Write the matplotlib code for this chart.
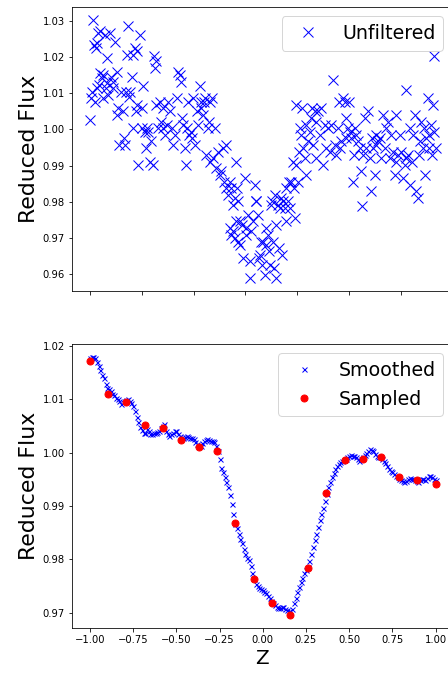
import numpy as np
import matplotlib
matplotlib.use('Agg')
import matplotlib.pyplot as plt

# Unfiltered light curve
z_raw = [
    -1.000, -0.985, -0.990, -0.996, -0.977, -0.965, -0.961, -0.952, -0.942, -0.971,
    -0.958, -0.946, -0.942, -0.933, -0.923, -0.923, -0.913, -0.908, -0.904, -0.900,
    -0.894, -0.884, -0.879, -0.869, -0.865, -0.855, -0.846, -0.842, -0.836, -0.830,
    -0.823, -0.811, -0.803, -0.798, -0.792, -0.788, -0.778, -0.773, -0.769, -0.759,
    -0.753, -0.750, -0.740, -0.734, -0.730, -0.726, -0.721, -0.711, -0.701, -0.696,
    -0.692, -0.682, -0.676, -0.672, -0.663, -0.653, -0.644, -0.634, -0.630, -0.624,
    -0.618, -0.615, -0.605, -0.595, -0.586, -0.580, -0.576, -0.566, -0.557, -0.547,
    -0.538, -0.528, -0.518, -0.509, -0.499, -0.489, -0.480, -0.474, -0.470, -0.461,
    -0.451, -0.445, -0.441, -0.432, -0.426, -0.418, -0.412, -0.403, -0.393, -0.383,
    -0.374, -0.364, -0.358, -0.355, -0.345, -0.341, -0.335, -0.326, -0.316, -0.310,
    -0.306, -0.303, -0.291, -0.287, -0.277, -0.268, -0.258, -0.249, -0.239, -0.229,
    -0.225, -0.214, -0.210, -0.200, -0.191, -0.181, -0.171, -0.162, -0.156, -0.148,
    -0.143, -0.191, -0.181, -0.171, -0.162, -0.152, -0.143, -0.133, -0.129, -0.118,
    -0.114, -0.104, -0.098, -0.094, -0.085, -0.075, -0.071, -0.066, -0.056, -0.046,
    -0.040, -0.037, -0.027, -0.021, -0.017, -0.008, -0.002, 0.002, 0.012, 0.017,
    0.021, 0.031, 0.037, 0.040, 0.050, 0.056, 0.060, 0.066, 0.069, 0.075,
    0.079, 0.089, 0.094, 0.098, 0.108, 0.114, 0.118, 0.127, 0.133, 0.137,
    0.146, 0.152, 0.156, 0.166, 0.175, 0.179, 0.185, 0.191, 0.195, 0.204,
    0.210, 0.214, 0.224, 0.229, 0.233, 0.243, 0.249, 0.252, 0.262, 0.272,
    0.281, 0.287, 0.291, 0.301, 0.306, 0.310, 0.320, 0.329, 0.339, 0.349,
    0.358, 0.368, 0.378, 0.387, 0.397, 0.407, 0.416, 0.426, 0.435, 0.441,
    0.445, 0.455, 0.464, 0.474, 0.480, 0.484, 0.493, 0.499, 0.503, 0.513,
    0.522, 0.526, 0.532, 0.541, 0.551, 0.561, 0.570, 0.576, 0.580, 0.590,
    0.599, 0.609, 0.618, 0.628, 0.634, 0.638, 0.647, 0.653, 0.657, 0.667,
    0.676, 0.686, 0.696, 0.705, 0.715, 0.724, 0.734, 0.744, 0.753, 0.763,
    0.769, 0.773, 0.782, 0.792, 0.802, 0.811, 0.821, 0.827, 0.830, 0.840,
    0.850, 0.854, 0.865, 0.869, 0.879, 0.888, 0.898, 0.904, 0.908, 0.917,
    0.927, 0.936, 0.942, 0.946, 0.956, 0.961, 0.965, 0.975, 0.981, 0.985,
    0.990, 0.994, 1.000,
]
flux_raw = [
    1.0027, 1.0303, 1.0105, 1.0087, 1.0234, 1.0225, 1.0238, 1.0266, 1.0271, 1.0077,
    1.0114, 1.0123, 1.0155, 1.0141, 1.0150, 1.0087, 1.0261, 1.0114, 1.0197, 1.0128,
    1.0096, 1.0266, 1.0146, 1.0132, 1.0114, 1.0243, 1.0160, 1.0040, 1.0059, 0.9957,
    1.0105, 1.0050, 0.9976, 0.9957, 1.0105, 1.0206, 1.0287, 1.0091, 1.0105, 1.0146,
    1.0003, 1.0206, 1.0225, 1.0050, 1.0216, 1.0068, 0.9902, 1.0261, 1.0003, 1.0059,
    1.0119, 0.9994, 0.9948, 1.0003, 0.9994, 0.9911, 0.9967, 0.9902, 1.0202, 1.0169,
    1.0188, 1.0068, 1.0003, 1.0077, 1.0022, 1.0003, 1.0059, 0.9985, 1.0013, 1.0077,
    1.0050, 1.0003, 0.9957, 0.9985, 1.0087, 1.0160, 1.0150, 1.0132, 1.0031, 1.0013,
    0.9948, 0.9902, 1.0003, 1.0077, 0.9985, 0.9994, 0.9976, 1.0087, 0.9957, 1.0050,
    1.0013, 1.0119, 1.0077, 1.0059, 1.0040, 1.0077, 1.0087, 0.9930, 1.0003, 1.0022,
    0.9911, 1.0077, 1.0087, 0.9920, 1.0003, 0.9893, 0.9939, 0.9875, 0.9884, 0.9948,
    0.9856, 0.9957, 0.9837, 0.9819, 0.9856, 0.9837, 0.9792, 0.9810, 0.9911, 0.9837,
    0.9801, 0.9727, 0.9709, 0.9718, 0.9700, 0.9746, 0.9690, 0.9681, 0.9746, 0.9736,
    0.9644, 0.9865, 0.9727, 0.9709, 0.9764, 0.9635, 0.9589, 0.9718, 0.9746, 0.9847,
    0.9801, 0.9801, 0.9764, 0.9644, 0.9653, 0.9690, 0.9626, 0.9690, 0.9598, 0.9727,
    0.9681, 0.9709, 0.9663, 0.9626, 0.9792, 0.9801, 0.9690, 0.9617, 0.9819, 0.9589,
    0.9736, 0.9792, 0.9672, 0.9782, 0.9810, 0.9653, 0.9801, 0.9782, 0.9837, 0.9746,
    0.9801, 0.9856, 0.9782, 0.9856, 0.9911, 0.9837, 0.9755, 1.0068, 0.9902, 0.9856,
    0.9939, 1.0003, 0.9985, 1.0059, 0.9948, 0.9920, 1.0013, 0.9875, 0.9967, 0.9994,
    1.0031, 1.0059, 0.9957, 1.0050, 0.9920, 1.0022, 1.0050, 0.9985, 1.0059, 0.9902,
    1.0013, 0.9948, 1.0003, 0.9939, 1.0013, 1.0137, 0.9957, 0.9930, 1.0003, 1.0077,
    0.9948, 0.9967, 1.0087, 1.0077, 1.0031, 0.9976, 1.0003, 1.0077, 0.9994, 0.9976,
    0.9856, 0.9930, 1.0003, 0.9985, 0.9967, 0.9948, 0.9884, 0.9787, 0.9930, 1.0031,
    0.9948, 1.0050, 0.9920, 0.9829, 0.9976, 0.9948, 0.9875, 0.9985, 0.9957, 0.9967,
    0.9976, 0.9920, 1.0040, 0.9948, 1.0003, 1.0022, 0.9920, 0.9985, 0.9939, 0.9875,
    1.0040, 0.9911, 0.9930, 0.9985, 0.9939, 0.9866, 0.9902, 1.0109, 0.9920, 0.9930,
    1.0003, 0.9847, 0.9911, 0.9985, 1.0040, 0.9829, 0.9810, 0.9930, 0.9967, 1.0022,
    0.9948, 1.0003, 0.9875, 0.9976, 1.0087, 0.9948, 0.9985, 1.0013, 0.9930, 1.0068,
    0.9994, 1.0202, 0.9948,
]

# Smoothed curve, one value every 0.01 in Z
z_smooth = np.linspace(-1, 1, 201)
flux_smooth = [
    1.0177, 1.0179, 1.0178, 1.0176, 1.0170, 1.0162, 1.0155, 1.0146, 1.0140, 1.0128,
    1.0121, 1.0119, 1.0115, 1.0110, 1.0108, 1.0103, 1.0100, 1.0097, 1.0090, 1.0094,
    1.0096, 1.0099, 1.0100, 1.0097, 1.0092, 1.0087, 1.0078, 1.0066, 1.0058, 1.0047,
    1.0042, 1.0036, 1.0037, 1.0044, 1.0041, 1.0034, 1.0034, 1.0036, 1.0037, 1.0038,
    1.0040, 1.0046, 1.0050, 1.0053, 1.0040, 1.0035, 1.0031, 1.0034, 1.0037, 1.0040,
    1.0040, 1.0035, 1.0031, 1.0030, 1.0028, 1.0030, 1.0031, 1.0029, 1.0028, 1.0027,
    1.0025, 1.0020, 1.0016, 1.0014, 1.0013, 1.0018, 1.0022, 1.0024, 1.0025, 1.0024,
    1.0022, 1.0021, 1.0019, 1.0013, 1.0003, 0.9988, 0.9972, 0.9963, 0.9954, 0.9945,
    0.9935, 0.9920, 0.9904, 0.9885, 0.9867, 0.9858, 0.9848, 0.9839, 0.9830, 0.9820,
    0.9811, 0.9803, 0.9799, 0.9787, 0.9774, 0.9763, 0.9755, 0.9750, 0.9746, 0.9745,
    0.9743, 0.9740, 0.9737, 0.9732, 0.9727, 0.9722, 0.9718, 0.9714, 0.9712, 0.9710,
    0.9709, 0.9711, 0.9712, 0.9708, 0.9706, 0.9704, 0.9703, 0.9708, 0.9718, 0.9728,
    0.9740, 0.9749, 0.9758, 0.9766, 0.9774, 0.9780, 0.9786, 0.9798, 0.9811, 0.9823,
    0.9836, 0.9848, 0.9861, 0.9873, 0.9885, 0.9897, 0.9910, 0.9922, 0.9935, 0.9945,
    0.9954, 0.9962, 0.9969, 0.9974, 0.9979, 0.9982, 0.9985, 0.9987, 0.9988, 0.9991,
    0.9994, 0.9995, 0.9994, 0.9993, 0.9991, 0.9988, 0.9985, 0.9988, 0.9991, 0.9996,
    1.0000, 1.0003, 1.0006, 1.0005, 1.0003, 0.9998, 0.9994, 0.9992, 0.9991, 0.9988,
    0.9985, 0.9980, 0.9975, 0.9970, 0.9966, 0.9963, 0.9960, 0.9957, 0.9954, 0.9951,
    0.9948, 0.9946, 0.9944, 0.9947, 0.9951, 0.9952, 0.9951, 0.9950, 0.9948, 0.9946,
    0.9944, 0.9948, 0.9951, 0.9950, 0.9948, 0.9953, 0.9957, 0.9956, 0.9954, 0.9951,
    0.9948,
]

# Sampled points
z_sampled = np.linspace(-1, 1, 20)
flux_sampled = [
    1.0172, 1.0109, 1.0095, 1.0051, 1.0046, 1.0024, 1.0011, 1.0003, 0.9869, 0.9763,
    0.9719, 0.9696, 0.9784, 0.9925, 0.9986, 0.9988, 0.9992, 0.9955, 0.9948, 0.9941,
]

fig = plt.figure(figsize=(448 / 72, 673 / 72), dpi=72)
ax1 = fig.add_axes([0.1607, 0.5676, 0.85, 0.422])
ax2 = fig.add_axes([0.1607, 0.0669, 0.85, 0.422])

# Top panel: raw data
ax1.plot(z_raw, flux_raw, 'bx', markersize=10, label='Unfiltered')
ax1.set_xlim(-1.104, 1.1)
ax1.set_xticks(np.arange(-1.0, 1.1, 0.3))
ax1.set_xticklabels([])
ax1.set_ylabel('Reduced Flux', fontsize=22)
ax1.legend(loc='upper right', fontsize=19)

# Bottom panel: smoothed and sampled
ax2.plot(z_smooth, flux_smooth, 'bx', markersize=5, label='Smoothed')
ax2.plot(z_sampled, flux_sampled, 'ro', markersize=7, label='Sampled')
ax2.set_xlim(-1.104, 1.1)
ax2.set_xlabel('Z', fontsize=20)
ax2.set_ylabel('Reduced Flux', fontsize=22)
ax2.legend(loc='upper right', fontsize=19)

plt.savefig('out.png', dpi=72)
